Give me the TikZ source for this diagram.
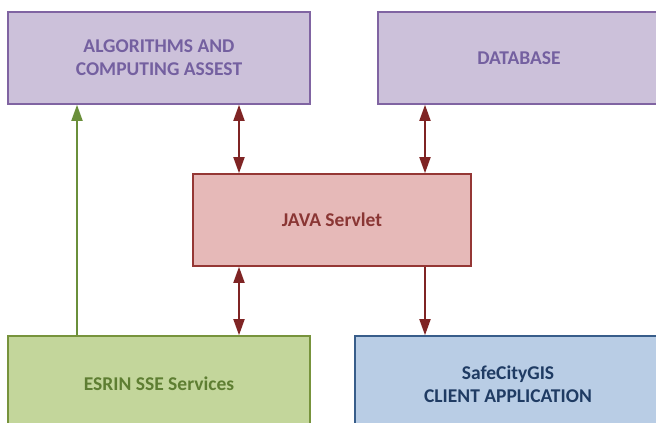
\documentclass[tikz,border=0pt]{standalone}
\usepackage{fontspec}
\setmainfont{Carlito}
\usetikzlibrary{arrows.meta}
\definecolor{purpfill}{HTML}{CCC1DA}
\definecolor{purpline}{HTML}{8064A2}
\definecolor{purptext}{HTML}{7460A0}
\definecolor{redfill}{HTML}{E6B9B8}
\definecolor{redline}{HTML}{953735}
\definecolor{redtext}{HTML}{8A3634}
\definecolor{grnfill}{HTML}{C3D69B}
\definecolor{grnline}{HTML}{77933C}
\definecolor{grntext}{HTML}{5E7E32}
\definecolor{blufill}{HTML}{B9CDE5}
\definecolor{bluline}{HTML}{385D8A}
\definecolor{blutext}{HTML}{1F3B63}
\definecolor{arrred}{HTML}{7F2424}
\definecolor{arrgrn}{HTML}{6A8F3A}
\begin{document}
\begin{tikzpicture}[x=1pt, y=-1pt,
  box/.style={rectangle, line width=1.6pt, minimum height=92pt, align=center,
    font=\fontsize{19.5}{23}\selectfont\bfseries},
  link/.style={line width=1.8pt, arrred, -{Triangle[length=16pt,width=11pt]}},
  dlink/.style={line width=1.8pt, arrred, {Triangle[length=16pt,width=11pt]}-{Triangle[length=16pt,width=11pt]}}]
\useasboundingbox (0,0) rectangle (656,423);
\node[box, minimum width=302pt, fill=purpfill, draw=purpline, text=purptext] (algo) at (159,58) {ALGORITHMS AND\\COMPUTING ASSEST};
\node[box, minimum width=282pt, fill=purpfill, draw=purpline, text=purptext] (db) at (519,58) {DATABASE};
\node[box, minimum width=278pt, fill=redfill, draw=redline, text=redtext] (srv) at (332,220) {JAVA Servlet};
\node[box, minimum width=302pt, minimum height=96pt, fill=grnfill, draw=grnline, text=grntext] (esrin) at (159,384) {ESRIN SSE Services};
\node[box, minimum width=306pt, minimum height=96pt, fill=blufill, draw=bluline, text=blutext] (safe) at (508,384) {SafeCityGIS\\CLIENT APPLICATION};
% connectors
\coordinate (gx) at (77,0);
\coordinate (lx) at (239,0);
\coordinate (rx) at (425,0);
\draw[line width=1.8pt, arrgrn, -{Triangle[length=16pt,width=11pt]}] (esrin.north -| gx) -- (algo.south -| gx);
\draw[dlink] (algo.south -| lx) -- (srv.north -| lx);
\draw[dlink] (db.south -| rx) -- (srv.north -| rx);
\draw[dlink] (srv.south -| lx) -- (esrin.north -| lx);
\draw[link] (srv.south -| rx) -- (safe.north -| rx);
\end{tikzpicture}
\end{document}
